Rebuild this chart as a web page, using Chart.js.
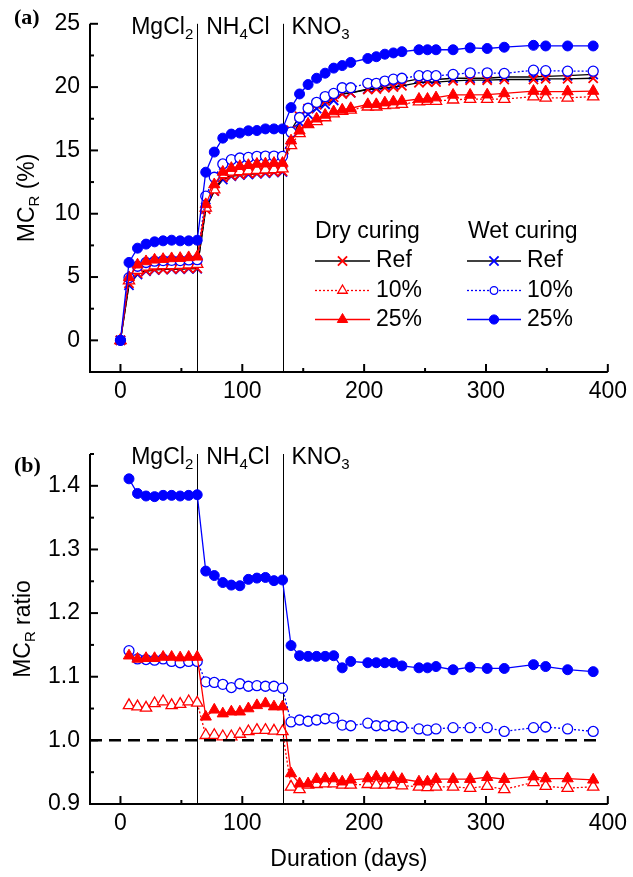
<!DOCTYPE html>
<html>
<head>
<meta charset="utf-8">
<script src="https://cdn.jsdelivr.net/npm/chart.js@4.4.1/dist/chart.umd.min.js"></script>
<style>
  body { margin: 0; background: #fff; }
  #wrap { position: relative; width: 633px; height: 877px; }
  canvas { position: absolute; left: 0; }
</style>
</head>
<body>
<div id="wrap">
  <canvas id="chart-a" width="633" height="430" style="top:0"></canvas>
  <canvas id="chart-b" width="633" height="447" style="top:430px"></canvas>
</div>
<script>
// 측정일 (days)
const days = [0, 7, 14, 21, 28, 35, 42, 49, 56, 63,
  70, 77, 84, 91, 98, 105, 112, 119, 126, 133,
  140, 147, 154, 161, 168, 175, 182, 189, 203, 210, 217, 224, 231,
  245, 252, 259, 273, 287, 301, 315, 339, 349, 367, 388];
const ratioDays = days.slice(1);

// (a) MC_R (%)
const dryRef = [0, 4.5, 5.3, 5.5, 5.6, 5.6, 5.65, 5.65, 5.7, 5.7,
  10.35, 11.8, 12.85, 13.0, 13.1, 13.2, 13.2, 13.25, 13.3, 13.35,
  16.6, 17.7, 18.3, 18.6, 18.9, 19.2, 19.45, 19.55, 19.8, 19.85, 19.95, 20.0, 20.1,
  20.35, 20.4, 20.4, 20.5, 20.55, 20.55, 20.6, 20.6, 20.65, 20.65, 20.7];
const dry10 = [0, 4.71, 5.55, 5.81, 5.89, 5.92, 5.92, 5.94, 5.97, 6.02,
  10.47, 11.9, 13.1, 13.3, 13.35, 13.4, 13.45, 13.48, 13.5, 13.56,
  15.4, 16.35, 17.05, 17.3, 17.6, 17.9, 18.1, 18.2, 18.45, 18.45, 18.55, 18.6, 18.65,
  18.85, 18.9, 18.9, 19.0, 19.05, 19.05, 19.05, 19.25, 19.15, 19.15, 19.25];
const dry25 = [0, 4.97, 5.97, 6.23, 6.36, 6.41, 6.47, 6.49, 6.55, 6.6,
  10.74, 12.31, 13.3, 13.6, 13.75, 13.83, 13.93, 13.95, 14.0, 14.0,
  15.77, 16.55, 17.07, 17.5, 17.8, 18.07, 18.2, 18.33, 18.64, 18.64, 18.77, 18.85, 18.9,
  19.06, 19.06, 19.17, 19.38, 19.38, 19.4, 19.5, 19.69, 19.65, 19.65, 19.69];
const wetRef = [0, 4.35, 5.2, 5.45, 5.55, 5.6, 5.62, 5.62, 5.65, 5.66,
  10.5, 11.8, 12.7, 12.95, 13.05, 13.1, 13.15, 13.2, 13.25, 13.3,
  16.0, 17.2, 17.85, 18.3, 18.65, 18.95, 19.5, 19.55, 19.85, 19.95, 20.15, 20.2, 20.4,
  20.65, 20.65, 20.6, 20.7, 20.7, 20.7, 20.8, 20.8, 20.85, 20.9, 21.0];
const wet10 = [0, 4.95, 5.85, 6.15, 6.25, 6.3, 6.32, 6.3, 6.35, 6.37,
  11.39, 12.88, 13.93, 14.27, 14.4, 14.45, 14.53, 14.55, 14.55, 14.53,
  16.44, 17.6, 18.33, 18.8, 19.25, 19.5, 19.95, 19.95, 20.3, 20.3, 20.48, 20.63, 20.7,
  20.9, 20.9, 20.9, 21.0, 21.13, 21.13, 21.08, 21.34, 21.3, 21.26, 21.26];
const wet25 = [0, 6.15, 7.28, 7.6, 7.78, 7.86, 7.91, 7.86, 7.86, 7.91,
  13.28, 14.87, 15.97, 16.29, 16.37, 16.55, 16.57, 16.7, 16.7, 16.7,
  18.38, 19.46, 20.2, 20.7, 21.1, 21.5, 21.7, 21.95, 22.26, 22.4, 22.6, 22.7, 22.8,
  22.95, 22.95, 22.95, 22.95, 23.1, 23.05, 23.15, 23.3, 23.25, 23.25, 23.25];

// (b) MC_R ratio
const ratioDry10 = [1.055, 1.053, 1.051, 1.058, 1.061, 1.055, 1.057, 1.061, 1.059,
  1.008, 1.008, 1.006, 1.006, 1.010, 1.014, 1.016, 1.016, 1.015, 1.014,
  0.927, 0.923, 0.930, 0.931, 0.932, 0.932, 0.930, 0.930, 0.931, 0.930, 0.930, 0.931, 0.929,
  0.927, 0.926, 0.927, 0.927, 0.925, 0.928, 0.923, 0.934, 0.928, 0.925, 0.927];
const ratioDry25 = [1.133, 1.128, 1.129, 1.129, 1.131, 1.131, 1.130, 1.131, 1.131,
  1.037, 1.048, 1.042, 1.045, 1.045, 1.050, 1.055, 1.058, 1.053, 1.053,
  0.948, 0.932, 0.932, 0.939, 0.940, 0.940, 0.935, 0.938, 0.940, 0.943, 0.940, 0.942, 0.939,
  0.935, 0.935, 0.939, 0.939, 0.939, 0.942, 0.939, 0.943, 0.940, 0.940, 0.938];
const ratioWet10 = [1.141, 1.128, 1.127, 1.126, 1.128, 1.124, 1.122, 1.124, 1.124,
  1.092, 1.091, 1.088, 1.083, 1.089, 1.085, 1.086, 1.085, 1.085, 1.082,
  1.029, 1.032, 1.030, 1.032, 1.034, 1.035, 1.024, 1.023, 1.027, 1.023, 1.023, 1.023, 1.021,
  1.018, 1.016, 1.018, 1.020, 1.020, 1.020, 1.014, 1.020, 1.021, 1.018, 1.014];
const ratioWet25 = [1.411, 1.388, 1.384, 1.383, 1.385, 1.385, 1.384, 1.385, 1.386,
  1.266, 1.259, 1.248, 1.244, 1.243, 1.253, 1.255, 1.256, 1.251, 1.252,
  1.149, 1.133, 1.132, 1.132, 1.132, 1.133, 1.114, 1.124, 1.122, 1.122, 1.122, 1.122, 1.117,
  1.114, 1.114, 1.116, 1.111, 1.115, 1.113, 1.113, 1.119, 1.116, 1.111, 1.108];

// 기준선 / 염 교체 시점
const refLineX = [-25, 394];
const refLineY = [1, 1];
const saltChanges = [63, 133];
const saltLabels = [
  [['MgCl', false], ['2', true]],
  [['NH', false], ['4', true], ['Cl', false]],
  [['KNO', false], ['3', true]],
];

const FONT = '"Liberation Sans", Arial, sans-serif';
const RED = '#ff0000';
const BLUE = '#0000ff';

// 시리즈 스타일
const styles = {
  dryRef: { color: RED, line: '#000', fill: RED, point: 'crossRot', radius: 6.5, pw: 1.8, dash: [], lr: 6.5 },
  dry10: { color: RED, line: RED, fill: '#fff', point: 'triangle', radius: 6.5, pw: 1.3, dash: [2, 2], lr: 5.5 },
  dry25: { color: RED, line: RED, fill: RED, point: 'triangle', radius: 6.5, pw: 1, dash: [], lr: 6 },
  wetRef: { color: BLUE, line: '#000', fill: BLUE, point: 'crossRot', radius: 6.5, pw: 1.8, dash: [], lr: 6.5 },
  wet10: { color: BLUE, line: BLUE, fill: '#fff', point: 'circle', radius: 5, pw: 1.3, dash: [2, 2], lr: 3.8 },
  wet25: { color: BLUE, line: BLUE, fill: BLUE, point: 'circle', radius: 5, pw: 1, dash: [], lr: 4.6 },
};

const legendRows = [
  { label: 'Ref', dry: styles.dryRef, wet: styles.wetRef },
  { label: '10%', dry: styles.dry10, wet: styles.wet10 },
  { label: '25%', dry: styles.dry25, wet: styles.wet25 },
];

function series(xs, ys, st) {
  return {
    data: xs.map((x, i) => ({ x: x, y: ys[i] })),
    borderColor: st.line,
    borderWidth: 1.3,
    borderDash: st.dash,
    pointStyle: st.point,
    pointRadius: st.radius,
    pointBorderColor: st.color,
    pointBackgroundColor: st.fill,
    pointBorderWidth: st.pw,
    tension: 0,
  };
}

// 아래첨자 포함 텍스트
function drawRich(ctx, parts, x, y, size, align) {
  const sub = Math.round(size * 0.66);
  let total = 0;
  parts.forEach(([t, s]) => {
    ctx.font = (s ? sub : size) + 'px ' + FONT;
    total += ctx.measureText(t).width;
  });
  let cx = align === 'center' ? x - total / 2 : align === 'right' ? x - total : x;
  ctx.textAlign = 'left';
  ctx.textBaseline = 'middle';
  ctx.fillStyle = '#000';
  parts.forEach(([t, s]) => {
    ctx.font = (s ? sub : size) + 'px ' + FONT;
    ctx.fillText(t, cx, s ? y + size * 0.3 : y);
    cx += ctx.measureText(t).width;
  });
}

function drawMarker(ctx, st, x, y, radius) {
  ctx.save();
  ctx.strokeStyle = st.color;
  ctx.fillStyle = st.fill;
  ctx.lineWidth = st.pw;
  ctx.setLineDash([]);
  Chart.helpers.drawPoint(ctx, { pointStyle: st.point, radius: radius, borderWidth: st.pw, rotation: 0 }, x, y);
  ctx.restore();
}

// 구분선, 축, 눈금, 제목
const framePlugin = {
  id: 'frame',
  beforeDatasetsDraw(chart) {
    const { ctx, chartArea: a, scales } = chart;
    ctx.save();
    ctx.strokeStyle = '#000';
    ctx.lineWidth = 1;
    saltChanges.forEach((d) => {
      const px = Math.round(scales.x.getPixelForValue(d)) + 0.5;
      ctx.beginPath();
      ctx.moveTo(px, a.top);
      ctx.lineTo(px, a.bottom);
      ctx.stroke();
    });
    ctx.restore();
  },
  afterDatasetsDraw(chart, args, opts) {
    const { ctx, chartArea: a, scales } = chart;
    const x = scales.x;
    const y = scales.y;
    ctx.save();
    ctx.strokeStyle = '#000';
    ctx.lineWidth = 2;
    ctx.beginPath();
    ctx.moveTo(a.left, a.top);
    ctx.lineTo(a.left, a.bottom);
    ctx.lineTo(a.right, a.bottom);
    ctx.stroke();

    const tick = (px, py, dx, dy) => {
      ctx.beginPath();
      ctx.moveTo(px, py);
      ctx.lineTo(px + dx, py + dy);
      ctx.stroke();
    };
    x.ticks.forEach((t) => tick(x.getPixelForValue(t.value), a.bottom, 0, -8));
    opts.minorX.forEach((v) => tick(x.getPixelForValue(v), a.bottom, 0, -4));
    y.ticks.forEach((t) => tick(a.left, y.getPixelForValue(t.value), 8, 0));
    opts.minorY.forEach((v) => tick(a.left, y.getPixelForValue(v), 4, 0));

    // 염 라벨
    const p1 = x.getPixelForValue(saltChanges[0]);
    const p2 = x.getPixelForValue(saltChanges[1]);
    const ty = a.top + 4;
    drawRich(ctx, saltLabels[0], p1 - 4, ty, 23, 'right');
    drawRich(ctx, saltLabels[1], p1 + 9, ty, 23, 'left');
    drawRich(ctx, saltLabels[2], p2 + 9, ty, 23, 'left');

    // y축 제목
    ctx.save();
    ctx.translate(opts.yTitleX, (a.top + a.bottom) / 2);
    ctx.rotate(-Math.PI / 2);
    drawRich(ctx, opts.yTitle, 0, 0, 23, 'center');
    ctx.restore();

    // x축 제목
    if (opts.xTitle) {
      drawRich(ctx, [[opts.xTitle, false]], (a.left + a.right) / 2, a.bottom + 56, 23, 'center');
    }

    // 패널 라벨
    ctx.font = 'bold 22px "Liberation Serif", "Times New Roman", serif';
    ctx.textAlign = 'left';
    ctx.textBaseline = 'middle';
    ctx.fillStyle = '#000';
    ctx.fillText(opts.panel, 14, opts.panelY);
    ctx.restore();
  },
};

// (a) 범례
const legendPlugin = {
  id: 'curingLegend',
  afterDatasetsDraw(chart, args, opts) {
    if (!opts.show) return;
    const ctx = chart.ctx;
    ctx.save();
    ctx.font = '23px ' + FONT;
    ctx.fillStyle = '#000';
    ctx.textAlign = 'left';
    ctx.textBaseline = 'middle';
    ctx.fillText('Dry curing', 315, 232);
    ctx.fillText('Wet curing', 468, 232);
    const rowsY = [261, 290.5, 319.5];
    const cols = [
      { key: 'dry', x1: 315, x2: 370, tx: 376 },
      { key: 'wet', x1: 467, x2: 521, tx: 527 },
    ];
    legendRows.forEach((row, i) => {
      const ry = rowsY[i];
      cols.forEach((c) => {
        const st = row[c.key];
        ctx.strokeStyle = st.line;
        ctx.lineWidth = 1.3;
        ctx.setLineDash(st.dash);
        ctx.beginPath();
        ctx.moveTo(c.x1, ry);
        ctx.lineTo(c.x2, ry);
        ctx.stroke();
        ctx.setLineDash([]);
        drawMarker(ctx, st, (c.x1 + c.x2) / 2, ry, st.lr);
        ctx.font = '23px ' + FONT;
        ctx.fillStyle = '#000';
        ctx.textAlign = 'left';
        ctx.textBaseline = 'middle';
        ctx.fillText(row.label, c.tx, ry);
      });
    });
    ctx.restore();
  },
};

function baseOptions(cfg) {
  return {
    responsive: false,
    animation: false,
    events: [],
    layout: { padding: { top: cfg.padTop, right: 21, left: 0, bottom: 0 } },
    plugins: {
      legend: { display: false },
      tooltip: { enabled: false },
      frame: cfg.frame,
      curingLegend: { show: cfg.legend },
    },
    scales: {
      x: {
        type: 'linear',
        min: -25,
        max: 400,
        grid: { display: false, drawTicks: false },
        border: { display: false },
        ticks: {
          stepSize: 100,
          includeBounds: false,
          autoSkip: false,
          maxRotation: 0,
          padding: 6,
          color: '#000',
          font: { family: FONT, size: 23 },
        },
        afterFit(scale) { scale.height = cfg.xHeight; },
      },
      y: {
        min: cfg.yMin,
        max: cfg.yMax,
        grid: { display: false, drawTicks: false },
        border: { display: false },
        ticks: {
          stepSize: cfg.yStep,
          includeBounds: false,
          padding: 10,
          color: '#000',
          font: { family: FONT, size: 23 },
          callback: cfg.yFormat,
        },
        afterFit(scale) { scale.width = 90; },
      },
    },
  };
}

Chart.register(framePlugin, legendPlugin);

new Chart(document.getElementById('chart-a'), {
  type: 'line',
  data: {
    datasets: [
      series(days, wet25, styles.wet25),
      series(days, dry25, styles.dry25),
      series(days, wet10, styles.wet10),
      series(days, dry10, styles.dry10),
      series(days, dryRef, styles.dryRef),
      series(days, wetRef, styles.wetRef),
    ],
  },
  options: baseOptions({
    padTop: 22,
    xHeight: 58,
    yMin: -2.5,
    yMax: 25,
    yStep: 5,
    yFormat: (v) => String(v),
    legend: true,
    frame: {
      minorX: [50, 150, 250, 350],
      minorY: [2.5, 7.5, 12.5, 17.5, 22.5],
      yTitle: [['MC', false], ['R', true], [' (%)', false]],
      yTitleX: 28,
      panel: '(a)',
      panelY: 18,
    },
  }),
});

new Chart(document.getElementById('chart-b'), {
  type: 'line',
  data: {
    datasets: [
      {
        data: refLineX.map((x, i) => ({ x: x, y: refLineY[i] })),
        borderColor: '#000',
        borderWidth: 2.5,
        borderDash: [12, 7],
        pointRadius: 0,
      },
      series(ratioDays, ratioWet25, styles.wet25),
      series(ratioDays, ratioDry25, styles.dry25),
      series(ratioDays, ratioWet10, styles.wet10),
      series(ratioDays, ratioDry10, styles.dry10),
    ],
  },
  options: baseOptions({
    padTop: 24,
    xHeight: 73,
    yMin: 0.9,
    yMax: 1.45,
    yStep: 0.1,
    yFormat: (v) => v.toFixed(1),
    legend: false,
    frame: {
      minorX: [50, 150, 250, 350],
      minorY: [0.95, 1.05, 1.15, 1.25, 1.35, 1.45],
      yTitle: [['MC', false], ['R', true], [' ratio', false]],
      yTitleX: 24,
      xTitle: 'Duration (days)',
      panel: '(b)',
      panelY: 36,
    },
  }),
});
</script>
</body>
</html>
